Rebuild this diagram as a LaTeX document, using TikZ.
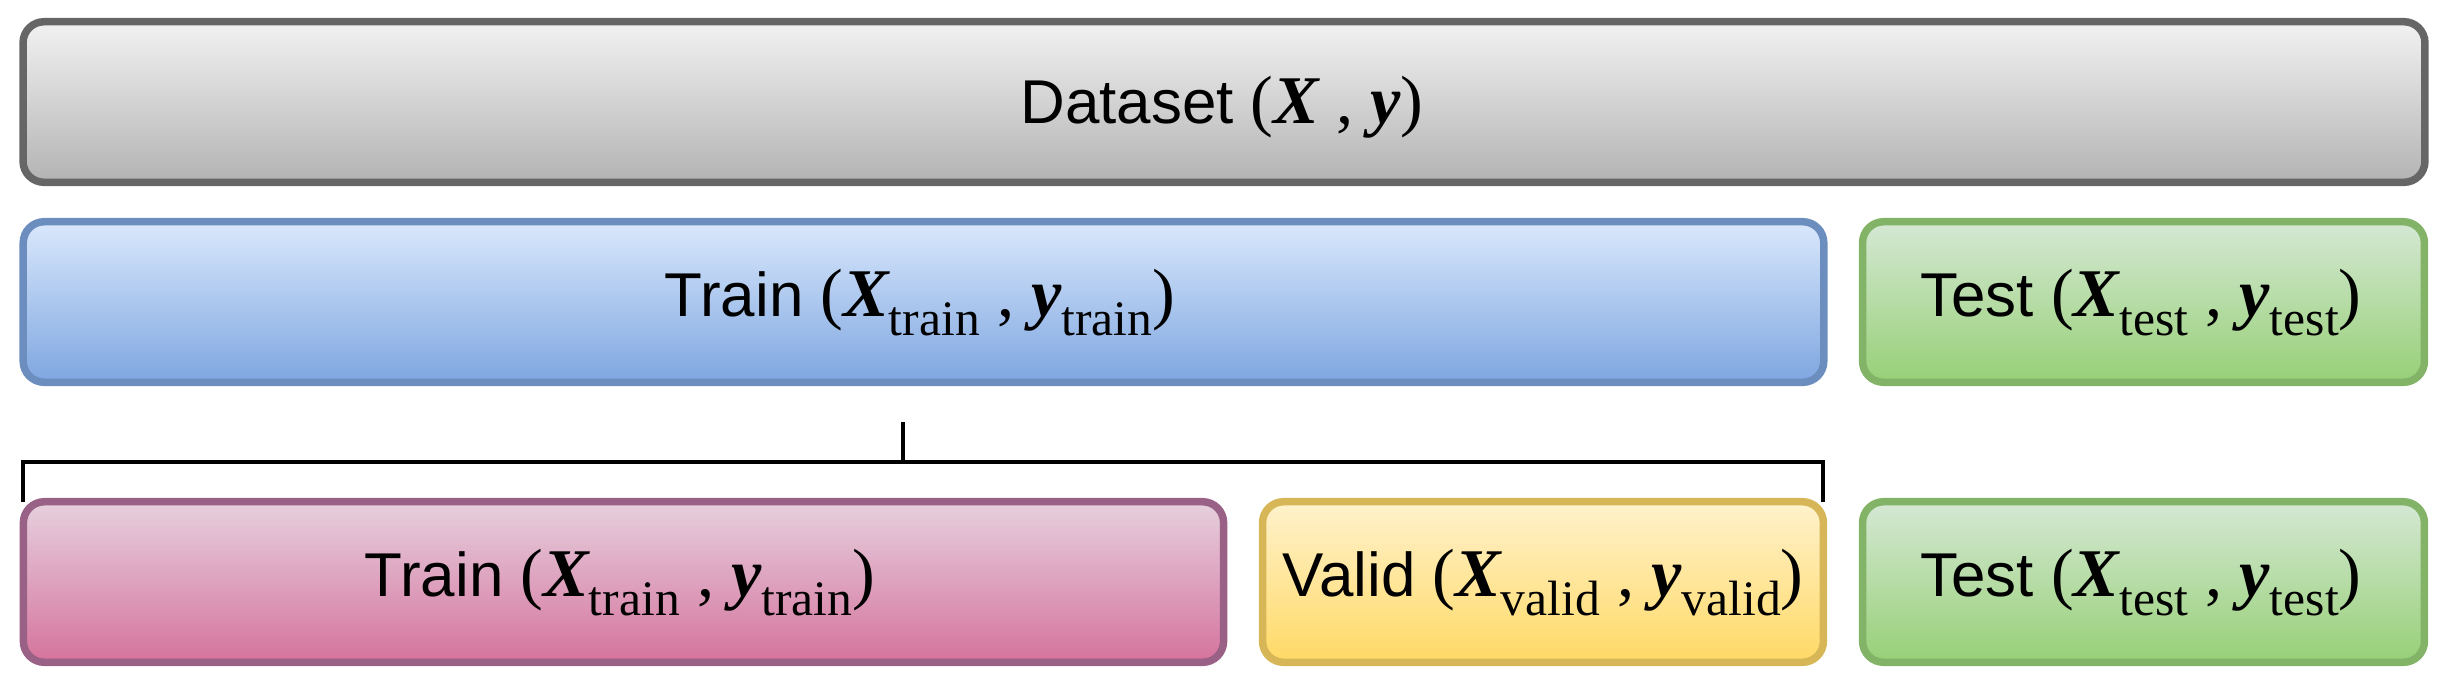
\documentclass[tikz,border=0pt]{standalone}
\usepackage{fontspec}
\setmainfont{Liberation Sans}
\newfontfamily\tnr{Liberation Serif}
\newcommand\mvar[1]{{\fontsize{19.4}{22}\selectfont\tnr\bfseries\itshape #1}}
\newcommand\msub[1]{\raisebox{-0.19cm}{\fontsize{14.1}{15}\selectfont\tnr #1}}
\newcommand\mpar[1]{{\fontsize{19.4}{22}\selectfont\tnr #1}}
\definecolor{grayS}{HTML}{666666}
\definecolor{grayT}{HTML}{F2F2F2}
\definecolor{grayB}{HTML}{B3B3B3}
\definecolor{blueS}{HTML}{6C8EBF}
\definecolor{blueT}{HTML}{DAE8FC}
\definecolor{blueB}{HTML}{7EA6E0}
\definecolor{greenS}{HTML}{82B366}
\definecolor{greenT}{HTML}{D5E8D4}
\definecolor{greenB}{HTML}{97D077}
\definecolor{pinkS}{HTML}{996185}
\definecolor{pinkT}{HTML}{E6D0DE}
\definecolor{pinkB}{HTML}{D5739D}
\definecolor{yelS}{HTML}{D6B656}
\definecolor{yelT}{HTML}{FFF2CC}
\definecolor{yelB}{HTML}{FFD966}
\tikzset{
  box/.style={draw, line width=0.075cm, rounded corners=0.21cm, minimum height=1.605cm, inner sep=0pt, outer sep=0pt},
  graybox/.style={box, draw=grayS, top color=grayT, bottom color=grayB},
  bluebox/.style={box, draw=blueS, top color=blueT, bottom color=blueB},
  greenbox/.style={box, draw=greenS, top color=greenT, bottom color=greenB},
  pinkbox/.style={box, draw=pinkS, top color=pinkT, bottom color=pinkB},
  yelbox/.style={box, draw=yelS, top color=yelT, bottom color=yelB},
  lbl/.style={anchor=base, inner sep=0pt, font=\fontsize{17.6}{20}\selectfont},
  bracket/.style={draw=black, line width=0.04cm}
}
\begin{document}
\begin{tikzpicture}[x=0.01cm, y=-0.01cm]
\useasboundingbox (0,0) rectangle (2450,690);
% boxes
\node[graybox, minimum width=24.005cm] (ds) at (1224,102) {};
\node[bluebox, minimum width=17.995cm] (trn) at (923.5,302) {};
\node[greenbox, minimum width=5.615cm] (tst1) at (2143.5,302) {};
\node[pinkbox, minimum width=11.995cm] (trn2) at (623.5,582) {};
\node[yelbox, minimum width=5.605cm] (val) at (1543,582) {};
\node[greenbox, minimum width=5.615cm] (tst2) at (2143.5,582) {};
% labels
\node[lbl] (dsl) at (1222,123) {Dataset \mpar{(}\mvar{X} \mpar{,} \mvar{y}\mpar{)}};
\node[lbl] (trnl) at (920,316) {Train \mpar{(}\mvar{X}\msub{train} \mpar{,} \mvar{y}\msub{train}\mpar{)}};
\node[lbl] (tst1l) at (2141,316) {Test \mpar{(}\mvar{X}\msub{test} \mpar{,} \mvar{y}\msub{test}\mpar{)}};
\node[lbl] (trn2l) at (620,596) {Train \mpar{(}\mvar{X}\msub{train} \mpar{,} \mvar{y}\msub{train}\mpar{)}};
\node[lbl] (vall) at (1543,596) {Valid \mpar{(}\mvar{X}\msub{valid} \mpar{,} \mvar{y}\msub{valid}\mpar{)}};
\node[lbl] (tst2l) at (2141,596) {Test \mpar{(}\mvar{X}\msub{test} \mpar{,} \mvar{y}\msub{test}\mpar{)}};
% bracket
\coordinate (bar) at (903,462);
\coordinate (tick) at (903,422);
\draw[bracket] (trn2.north west) |- (bar) -| (val.north east);
\draw[bracket] (bar) -- (tick);
\end{tikzpicture}
\end{document}
